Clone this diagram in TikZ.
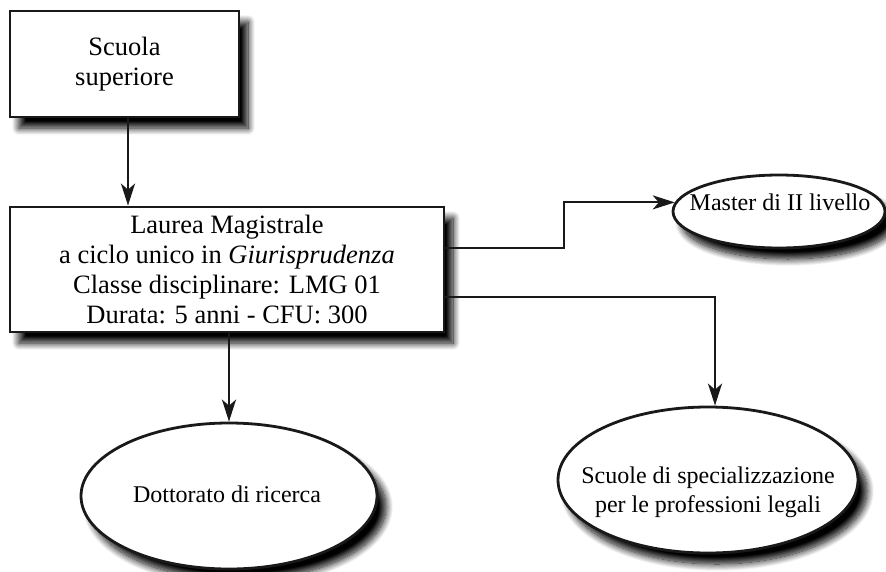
\documentclass[tikz,border=0pt]{standalone}
\usepackage{fontspec}
\setmainfont{Liberation Serif}
\usetikzlibrary{arrows.meta,shadows.blur,calc,shapes.geometric}
\begin{document}
\begin{tikzpicture}[x=1pt,y=-1pt,
  shad/.style={blur shadow={shadow xshift=9pt,shadow yshift=-11pt,shadow blur radius=7pt,shadow blur steps=14,shadow opacity=100}},
  boxnode/.style={draw=black!90,line width=2.8pt,fill=white,shad,inner sep=0pt,align=center,
     font=\fontsize{26.5}{30.3}\selectfont},
  ellnode/.style={ellipse,draw=black!90,line width=2.8pt,fill=white,shad,inner sep=0pt},
  etext/.style={align=center,font=\fontsize{24}{29}\selectfont,inner sep=0pt},
  conn/.style={line width=2.2pt,draw=black!90,-{Stealth[length=22pt,width=14pt,inset=6pt]}}
]
\useasboundingbox (0,0) rectangle (886,571);
% boxes
\node[boxnode,minimum width=229pt,minimum height=106pt] (a) at (124.5,64) {Scuola\\superiore};
\node[boxnode,minimum width=434pt,minimum height=125pt] (l) at (227,269.5)
  {Laurea Magistrale\\a ciclo unico in \textit{Giurisprudenza}\\Classe disciplinare: LMG 01\\Durata: 5 anni - CFU: 300};
% ellipses
\node[ellnode,minimum width=212pt,minimum height=73pt] (m) at (779,211.5) {};
\node[etext] (mt) at (780,202) {Master di II livello};
\node[ellnode,minimum width=296pt,minimum height=146pt] (d) at (229,496) {};
\node[etext] (dt) at (227,494) {Dottorato di ricerca};
\node[ellnode,minimum width=300pt,minimum height=146pt] (s) at (708,480) {};
\node[etext] (st) at (708,492) {Scuole di specializzazione\\per le professioni legali};
% connectors
\coordinate (k1) at (564,248);
\draw[conn] (a.south -| 128,0) -- (l.north -| 128,0);
\draw[conn] ([yshift=21.5pt]l.east) -- (k1) |- (m.175);
\draw[conn] ([yshift=-27.5pt]l.east) -| ([xshift=7pt]s.north);
\draw[conn] (l.south -| d.north) -- (d.north);
\end{tikzpicture}
\end{document}
